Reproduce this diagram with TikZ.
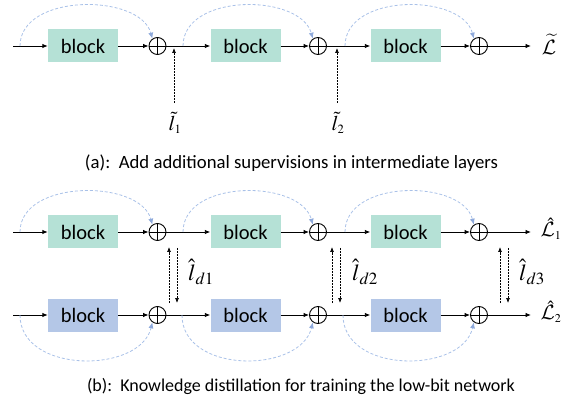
\documentclass[tikz,border=0pt]{standalone}
\usepackage{mathptmx}
\DeclareMathAlphabet{\mathcal}{OMS}{cmsy}{m}{n}
\usepackage[no-math]{fontspec}
\newfontfamily\calibri{Carlito}
\usetikzlibrary{arrows.meta}

\definecolor{tealblock}{HTML}{B5E1D6}
\definecolor{blueblock}{HTML}{B4C7E7}
\definecolor{skipblue}{HTML}{A9C1E8}
\definecolor{skiptip}{HTML}{8EA9DB}

\tikzset{
  blk/.style={minimum width=70pt, minimum height=33pt, inner sep=0pt,
    font=\calibri\fontsize{20.5}{20.5}\selectfont},
  tblk/.style={blk, fill=tealblock},
  bblk/.style={blk, fill=blueblock},
  sum/.style={circle, draw=black, line width=0.9pt, minimum size=17pt, inner sep=0pt,
    path picture={\draw[line width=0.9pt]
      (path picture bounding box.north) -- (path picture bounding box.south)
      (path picture bounding box.west) -- (path picture bounding box.east);}},
  flow/.style={line width=0.9pt, -{Latex[length=5.5pt,width=4.5pt]}},
  skip/.style={draw=skipblue, line width=0.8pt, dash pattern=on 3pt off 2pt,
    -{Latex[length=6pt,width=5pt,color=skiptip]}},
  sup/.style={line width=0.7pt, dash pattern=on 0.6pt off 0.9pt,
    -{Latex[length=5pt,width=4pt]}},
  lbl/.style={inner sep=0pt},
  caption/.style={inner sep=0pt, anchor=base}
}
\newcommand{\captext}[2]{\resizebox{#1}{!}{\calibri\fontsize{17}{17}\selectfont #2}}
% hat set a little higher above the letter
\newcommand{\hihat}[1]{\hat{\vphantom{T}#1}}

\begin{document}
\begin{tikzpicture}[x=1pt, y=-1pt]
\useasboundingbox (0,0) rectangle (571,401);

% ---------------- (a) single network with intermediate supervision ----------------
\coordinate (ain) at (13,46);
\coordinate (as1) at (20,46);
\node[tblk] (a1) at (83,46) {block};
\node[sum]  (pa1) at (157.5,46) {};
\node[tblk] (a2) at (245.5,46) {block};
\node[sum]  (pa2) at (318,46) {};
\node[tblk] (a3) at (405.5,46) {block};
\node[sum]  (pa3) at (479,46) {};
\coordinate (aout) at (531,46);
\node[lbl, font=\fontsize{20}{20}\selectfont] (La) at (549,44) {$\widetilde{\mathcal{L}}$};

\coordinate (as2) at (183,46);
\coordinate (as3) at (345,46);

\draw[flow] (ain) -- (a1);
\draw[flow] (a1) -- (pa1);
\draw[flow] (pa1) -- (a2);
\draw[flow] (a2) -- (pa2);
\draw[flow] (pa2) -- (a3);
\draw[flow] (a3) -- (pa3);
\draw[flow] (pa3) -- (aout);

\draw[skip] (as1) .. controls (20,-7) and (140,-7) .. (pa1.125);
\draw[skip] (as2) .. controls (183,-7) and (300,-7) .. (pa2.125);
\draw[skip] (as3) .. controls (345,-7) and (462,-7) .. (pa3.125);

\node[lbl, font=\fontsize{21}{21}\selectfont] (l1) at (175,123) {$\tilde{l}_{\scriptscriptstyle 1}$};
\node[lbl, font=\fontsize{21}{21}\selectfont] (l2) at (338,123) {$\tilde{l}_{\scriptscriptstyle 2}$};
\coordinate (t1a) at (174,103);
\coordinate (t1b) at (174,48);
\coordinate (t2a) at (337,103);
\coordinate (t2b) at (337,48);
\draw[sup] (t1a) -- (t1b);
\draw[sup] (t2a) -- (t2b);

\node[caption] (capa) at (291.5,169) {\captext{413pt}{(a):\ \ Add additional supervisions in intermediate layers}};

% ---------------- (b) full-precision and low-bit networks ----------------
\coordinate (bin1) at (13,232);
\coordinate (bs1) at (20,232);
\node[tblk] (b1) at (83,232) {block};
\node[sum]  (pb1) at (157.5,232) {};
\node[tblk] (b2) at (245.5,232) {block};
\node[sum]  (pb2) at (318,232) {};
\node[tblk] (b3) at (405.5,232) {block};
\node[sum]  (pb3) at (479,232) {};
\coordinate (bout1) at (531,232);
\node[lbl, font=\fontsize{20}{20}\selectfont] (Lb1) at (551,229) {$\hat{\mathcal{L}}_{\scriptscriptstyle 1}$};
\coordinate (bs2) at (183,232);
\coordinate (bs3) at (345,232);

\coordinate (cin1) at (13,315);
\coordinate (cs1) at (20,315);
\node[bblk] (c1) at (83,315) {block};
\node[sum]  (pc1) at (157.5,315) {};
\node[bblk] (c2) at (245.5,315) {block};
\node[sum]  (pc2) at (318,315) {};
\node[bblk] (c3) at (405.5,315) {block};
\node[sum]  (pc3) at (479,315) {};
\coordinate (cout1) at (531,315);
\node[lbl, font=\fontsize{20}{20}\selectfont] (Lb2) at (551,312) {$\hat{\mathcal{L}}_{\scriptscriptstyle 2}$};
\coordinate (cs2) at (182,315);
\coordinate (cs3) at (343,315);

\draw[flow] (bin1) -- (b1);
\draw[flow] (b1) -- (pb1);
\draw[flow] (pb1) -- (b2);
\draw[flow] (b2) -- (pb2);
\draw[flow] (pb2) -- (b3);
\draw[flow] (b3) -- (pb3);
\draw[flow] (pb3) -- (bout1);

\draw[flow] (cin1) -- (c1);
\draw[flow] (c1) -- (pc1);
\draw[flow] (pc1) -- (c2);
\draw[flow] (c2) -- (pc2);
\draw[flow] (pc2) -- (c3);
\draw[flow] (c3) -- (pc3);
\draw[flow] (pc3) -- (cout1);

\draw[skip] (bs1) .. controls (20,179) and (140,179) .. (pb1.125);
\draw[skip] (bs2) .. controls (183,179) and (300,179) .. (pb2.125);
\draw[skip] (bs3) .. controls (345,179) and (462,179) .. (pb3.125);

\draw[skip] (cs1) .. controls (20,374) and (140,374) .. (pc1.235);
\draw[skip] (cs2) .. controls (182,374) and (300,374) .. (pc2.235);
\draw[skip] (cs3) .. controls (343,374) and (462,374) .. (pc3.235);

% distillation losses between the two streams
\coordinate (d1u0) at (169,303); \coordinate (d1u1) at (169,247);
\coordinate (d1d0) at (177,248); \coordinate (d1d1) at (177,303);
\coordinate (d2u0) at (332,303); \coordinate (d2u1) at (332,247);
\coordinate (d2d0) at (340,248); \coordinate (d2d1) at (340,303);
\coordinate (d3u0) at (500,303); \coordinate (d3u1) at (500,247);
\coordinate (d3d0) at (508,248); \coordinate (d3d1) at (508,303);
\foreach \k in {1,2,3}{
  \draw[sup] (d\k u0) -- (d\k u1);
  \draw[sup] (d\k d0) -- (d\k d1);
}
\node[lbl, font=\fontsize{23}{23}\selectfont] (ld1) at (201,272) {$\hihat{l}_{d1}$};
\node[lbl, font=\fontsize{23}{23}\selectfont] (ld2) at (365,272) {$\hihat{l}_{d2}$};
\node[lbl, font=\fontsize{23}{23}\selectfont] (ld3) at (532,272) {$\hihat{l}_{d3}$};

\node[caption] (capb) at (301,391) {\captext{428pt}{(b):\ \ Knowledge distillation for training the low-bit network}};
\end{tikzpicture}
\end{document}
